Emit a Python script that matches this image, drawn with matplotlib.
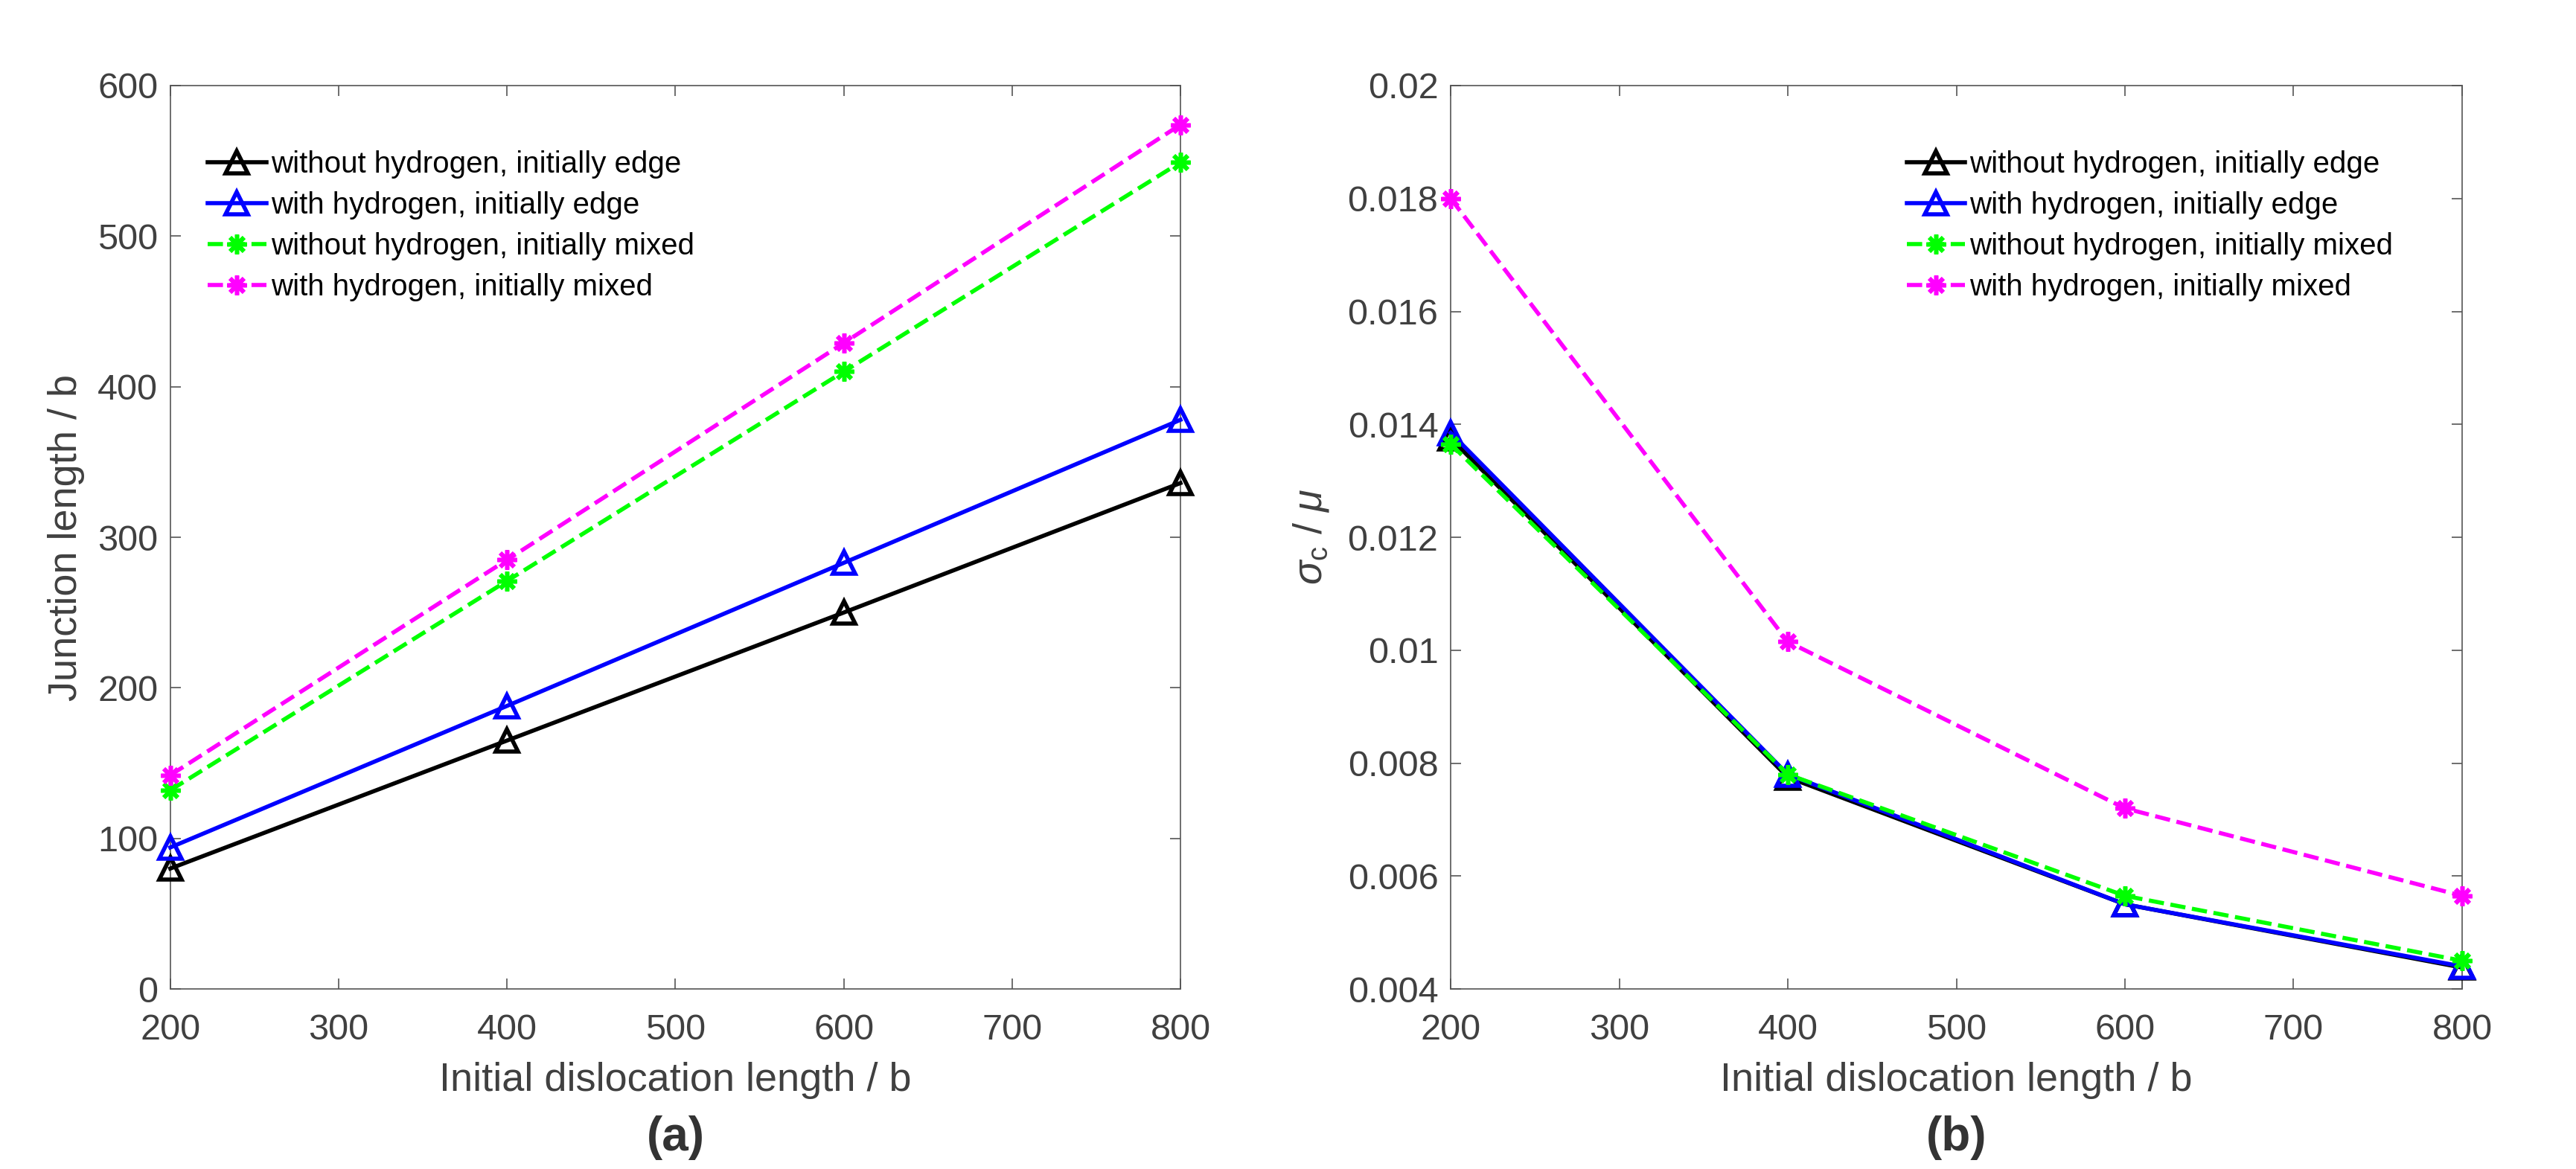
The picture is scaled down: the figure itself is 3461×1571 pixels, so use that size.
"""Junction length and critical stress vs. initial dislocation length."""

import matplotlib

matplotlib.use("Agg")
import matplotlib.pyplot as plt

plt.rcParams["font.family"] = ["Liberation Sans", "DejaVu Sans"]
plt.rcParams["mathtext.fontset"] = "custom"
plt.rcParams["mathtext.rm"] = "Liberation Sans"
plt.rcParams["mathtext.it"] = "Liberation Sans:italic"

LENGTHS = [200, 400, 600, 800]

LABELS = [
    "without hydrogen, initially edge",
    "with hydrogen, initially edge",
    "without hydrogen, initially mixed",
    "with hydrogen, initially mixed",
]

# panel (a): junction length / b
JUNCTION_NOH_EDGE = [80, 165, 250, 336]
JUNCTION_H_EDGE = [94, 188, 283, 378]
JUNCTION_NOH_MIXED = [132, 271, 410, 549]
JUNCTION_H_MIXED = [142, 285, 429, 574]

# panel (b): sigma_c / mu
STRESS_NOH_EDGE = [0.01375, 0.00775, 0.0055, 0.00438]
STRESS_H_EDGE = [0.01385, 0.0078, 0.0055, 0.0044]
STRESS_NOH_MIXED = [0.01365, 0.0078, 0.00565, 0.0045]
STRESS_H_MIXED = [0.0180, 0.01015, 0.0072, 0.00565]

COLORS = ["#000000", "#0000ff", "#00ff00", "#ff00ff"]
STYLES = ["-", "-", "--", "--"]
MARKERS = ["^", "^", (8, 2, 0), (8, 2, 0)]

AXIS_COLOR = "#555555"
TICK_COLOR = "#404040"


def style_axes(ax):
    for spine in ax.spines.values():
        spine.set_color(AXIS_COLOR)
        spine.set_linewidth(1.2)
    ax.tick_params(direction="in", length=10, width=1.2, colors=AXIS_COLOR,
                   labelcolor=TICK_COLOR, labelsize=35, top=True, right=True)
    ax.tick_params(axis="x", pad=24)
    ax.tick_params(axis="y", pad=12)


def draw_series(ax, series):
    for values, label, color, style, marker in zip(series, LABELS, COLORS, STYLES, MARKERS):
        is_star = marker != "^"
        ax.plot(
            LENGTHS, values, linestyle=style, color=color, linewidth=4,
            marker=marker, markersize=19 if is_star else 22,
            markerfacecolor="none", markeredgecolor=color,
            markeredgewidth=4 if is_star else 4,
            label=label, clip_on=False, zorder=3,
        )


def add_legend(ax, x):
    ax.legend(loc="upper left", bbox_to_anchor=(x, 0.928), frameon=False, fontsize=29,
              handlelength=1.95, handletextpad=0.15, labelspacing=0.42, borderpad=0,
              borderaxespad=0, numpoints=1)


fig = plt.figure(figsize=(34.62, 15.71), dpi=100)
ax_a = fig.add_axes([0.0661, 0.154, 0.392, 0.7728])
ax_b = fig.add_axes([0.563, 0.154, 0.3925, 0.7728])

draw_series(ax_a, [JUNCTION_NOH_EDGE, JUNCTION_H_EDGE, JUNCTION_NOH_MIXED, JUNCTION_H_MIXED])
ax_a.set_xlim(200, 800)
ax_a.set_ylim(0, 600)
ax_a.set_xticks(range(200, 801, 100))
ax_a.set_yticks(range(0, 601, 100))
style_axes(ax_a)
ax_a.set_xlabel("Initial dislocation length / b", fontsize=39, color=TICK_COLOR, labelpad=14)
ax_a.set_ylabel("Junction length / b", fontsize=39, color=TICK_COLOR, labelpad=12)
add_legend(ax_a, 0.037)

draw_series(ax_b, [STRESS_NOH_EDGE, STRESS_H_EDGE, STRESS_NOH_MIXED, STRESS_H_MIXED])
ax_b.set_xlim(200, 800)
ax_b.set_ylim(0.004, 0.02)
ax_b.set_xticks(range(200, 801, 100))
yticks = [0.004, 0.006, 0.008, 0.01, 0.012, 0.014, 0.016, 0.018, 0.02]
ax_b.set_yticks(yticks)
ax_b.set_yticklabels([f"{v:g}" for v in yticks])
style_axes(ax_b)
ax_b.set_xlabel("Initial dislocation length / b", fontsize=39, color=TICK_COLOR, labelpad=14)
ax_b.set_ylabel(r"$\sigma_{\rm c}$ / $\mu$", fontsize=39, color=TICK_COLOR, labelpad=16)
add_legend(ax_b, 0.451)

fig.text(0.2621, 0.027, "(a)", fontsize=46, fontweight="bold", color="#333333",
         ha="center", va="center")
fig.text(0.7593, 0.027, "(b)", fontsize=46, fontweight="bold", color="#333333",
         ha="center", va="center")

fig.savefig("out.png", dpi=100)
